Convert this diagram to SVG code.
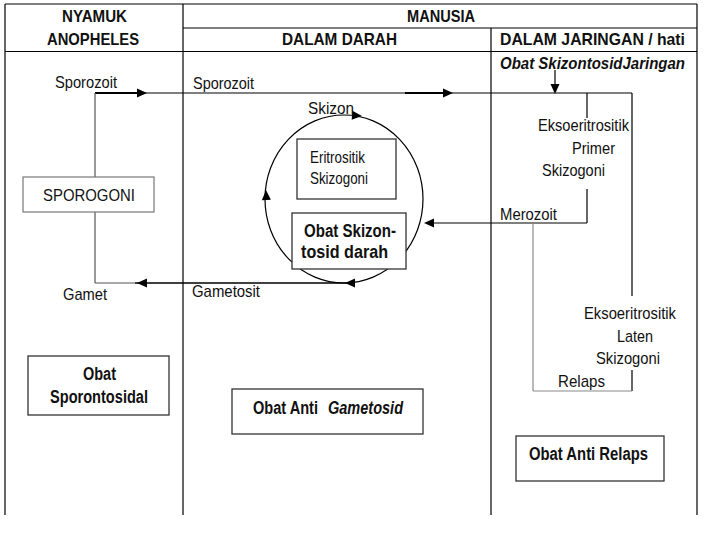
<svg xmlns="http://www.w3.org/2000/svg" xmlns:xlink="http://www.w3.org/1999/xlink" width="720" height="540" viewBox="0 0 720 540">
<defs>
<path id="ah" d="M0,0 L-10,-4.5 L-10,4.5 Z" fill="#000"/>
<style>
.frame{stroke:#000;stroke-width:1.2;fill:none}
.ln{stroke:#000;stroke-width:1.2;fill:none}
.thk{stroke:#000;stroke-width:2;fill:none}
.gry{stroke:#8a8a8a;stroke-width:1.2;fill:none}
.dgry{stroke:#555;stroke-width:1.2;fill:none}
.box{fill:#fff;stroke:#333;stroke-width:1.3}
.gbox{fill:#fff;stroke:#777;stroke-width:1.2}
.t{font-family:"Liberation Sans Narrow","Liberation Sans",Arial,sans-serif;font-size:17px;fill:#111}
.b{font-family:"Liberation Sans Narrow","Liberation Sans",Arial,sans-serif;font-weight:bold;font-size:17px;fill:#111}
.bb{font-family:"Liberation Sans Narrow","Liberation Sans",Arial,sans-serif;font-weight:bold;font-size:18px;fill:#111}
</style>
</defs>
<rect width="720" height="540" fill="#fff"/>
<g id="frame">
<line class="frame" x1="5" y1="4" x2="697" y2="4"/>
<line class="frame" x1="5" y1="4" x2="5" y2="515"/>
<line class="frame" x1="697" y1="4" x2="697" y2="515"/>
<line class="frame" x1="183" y1="28" x2="697" y2="28"/>
<line class="frame" x1="5" y1="51.5" x2="697" y2="51.5"/>
<line class="frame" x1="183" y1="4" x2="183" y2="515"/>
<line class="frame" x1="491" y1="28" x2="491" y2="515"/>
<text class="b" x="62" y="22" textLength="65" lengthAdjust="spacingAndGlyphs">NYAMUK</text>
<text class="b" x="47" y="45" textLength="92" lengthAdjust="spacingAndGlyphs">ANOPHELES</text>
<text class="b" x="407" y="22" textLength="68" lengthAdjust="spacingAndGlyphs">MANUSIA</text>
<text class="b" x="282" y="45" textLength="115" lengthAdjust="spacingAndGlyphs">DALAM DARAH</text>
<text class="b" x="500" y="45" textLength="185" lengthAdjust="spacingAndGlyphs">DALAM JARINGAN / hati</text>
<text class="b" x="500" y="69" font-style="italic" textLength="185" lengthAdjust="spacingAndGlyphs">Obat SkizontosidJaringan</text>
</g>
<g id="connectors">
<line class="ln" x1="95" y1="93" x2="632" y2="93"/>
<line class="thk" x1="95" y1="93" x2="140" y2="93"/>
<line class="thk" x1="405" y1="93" x2="446" y2="93"/>
<use xlink:href="#ah" transform="translate(147,93)"/>
<use xlink:href="#ah" transform="translate(453,93)"/>
<line class="dgry" x1="95" y1="93" x2="95" y2="177"/>
<line class="dgry" x1="95" y1="212" x2="95" y2="283"/>
<line class="dgry" x1="95" y1="283" x2="135" y2="283"/>
<line class="thk" x1="135" y1="283" x2="352" y2="283" style="stroke-width:1.6"/>
<use xlink:href="#ah" transform="translate(137,283) rotate(180)"/>
<line class="ln" x1="555" y1="70" x2="555" y2="86"/>
<use xlink:href="#ah" transform="translate(555,94) rotate(90)"/>
<line class="ln" x1="587" y1="93" x2="587" y2="118"/>
<line class="ln" x1="587" y1="189" x2="587" y2="223"/>
<line class="ln" x1="587" y1="223" x2="430" y2="223"/>
<use xlink:href="#ah" transform="translate(424,223) rotate(180)"/>
<line class="ln" x1="632" y1="93" x2="632" y2="296"/>
<line class="ln" x1="632" y1="370" x2="632" y2="391"/>
<line class="gry" x1="632" y1="391" x2="533" y2="391"/>
<line class="gry" x1="533" y1="391" x2="533" y2="223"/>
<ellipse class="ln" cx="344" cy="199" rx="79" ry="84"/>
<use xlink:href="#ah" transform="translate(362,116) rotate(4)"/>
<use xlink:href="#ah" transform="translate(266,190) rotate(-92)"/>
<use xlink:href="#ah" transform="translate(345,283) rotate(180)"/>
</g>
<g id="labels">
<text class="t" x="55" y="88" textLength="62" lengthAdjust="spacingAndGlyphs">Sporozoit</text>
<text class="t" x="193" y="89" textLength="61" lengthAdjust="spacingAndGlyphs">Sporozoit</text>
<text class="t" x="308" y="114" textLength="46" lengthAdjust="spacingAndGlyphs">Skizon</text>
<text class="t" x="63" y="300" textLength="44" lengthAdjust="spacingAndGlyphs">Gamet</text>
<text class="t" x="192" y="297" textLength="68" lengthAdjust="spacingAndGlyphs">Gametosit</text>
<text class="t" x="538" y="131" textLength="91" lengthAdjust="spacingAndGlyphs">Eksoeritrositik</text>
<text class="t" x="572" y="154" textLength="43" lengthAdjust="spacingAndGlyphs">Primer</text>
<text class="t" x="542" y="176" textLength="63" lengthAdjust="spacingAndGlyphs">Skizogoni</text>
<text class="t" x="500" y="220" textLength="57" lengthAdjust="spacingAndGlyphs">Merozoit</text>
<text class="t" x="584" y="319" textLength="92" lengthAdjust="spacingAndGlyphs">Eksoeritrositik</text>
<text class="t" x="617" y="342" textLength="36" lengthAdjust="spacingAndGlyphs">Laten</text>
<text class="t" x="596" y="364" textLength="64" lengthAdjust="spacingAndGlyphs">Skizogoni</text>
<text class="t" x="558" y="387" textLength="47" lengthAdjust="spacingAndGlyphs">Relaps</text>
</g>
<g id="sporogoni">
<rect class="gbox" x="23" y="177" width="131" height="35"/>
<text class="t" x="43" y="201" textLength="92" lengthAdjust="spacingAndGlyphs">SPOROGONI</text>
</g>
<g id="eritrositik">
<rect class="box" x="297" y="139" width="99" height="60"/>
<text class="t" x="310" y="163" textLength="55" lengthAdjust="spacingAndGlyphs">Eritrositik</text>
<text class="t" x="310" y="184" textLength="58" lengthAdjust="spacingAndGlyphs">Skizogoni</text>
</g>
<g id="obat-skizontosid-darah">
<rect class="box" x="292" y="213" width="114" height="56"/>
<text class="bb" x="304" y="237" textLength="92" lengthAdjust="spacingAndGlyphs">Obat Skizon-</text>
<text class="bb" x="301" y="258" textLength="87" lengthAdjust="spacingAndGlyphs">tosid darah</text>
</g>
<g id="obat-sporontosidal">
<rect class="box" x="28" y="356" width="141" height="59"/>
<text class="bb" x="83" y="380" textLength="33" lengthAdjust="spacingAndGlyphs">Obat</text>
<text class="bb" x="50" y="403" textLength="98" lengthAdjust="spacingAndGlyphs">Sporontosidal</text>
</g>
<g id="obat-anti-gametosid">
<rect class="box" x="232" y="389" width="191" height="45"/>
<text class="bb" x="253" y="414" textLength="65" lengthAdjust="spacingAndGlyphs">Obat Anti</text>
<text class="bb" x="328" y="414" font-style="italic" textLength="75" lengthAdjust="spacingAndGlyphs">Gametosid</text>
</g>
<g id="obat-anti-relaps">
<rect class="box" x="516" y="436" width="148" height="45"/>
<text class="bb" x="529" y="460" textLength="119" lengthAdjust="spacingAndGlyphs">Obat Anti Relaps</text>
</g>
</svg>
